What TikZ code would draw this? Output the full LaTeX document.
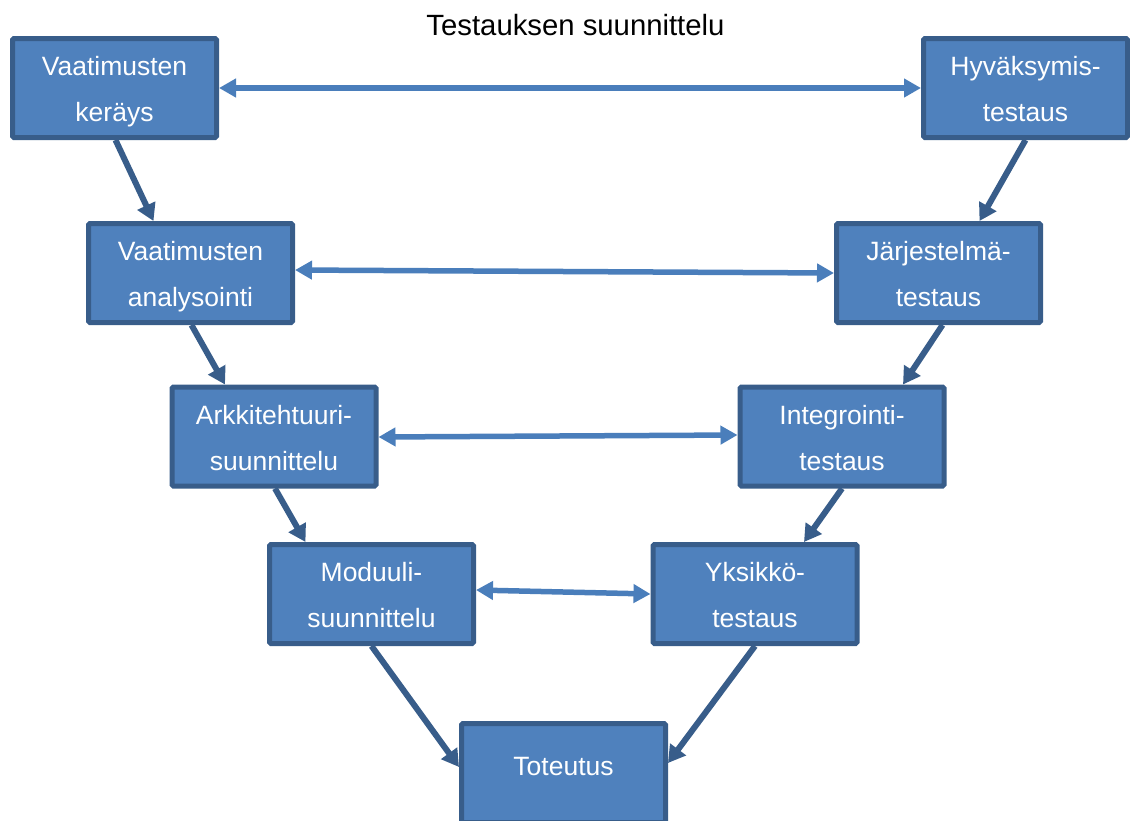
\documentclass[tikz,border=0pt]{standalone}
\usepackage{fontspec}
\setmainfont{Liberation Sans}
\usetikzlibrary{arrows.meta,calc}

\definecolor{boxfill}{HTML}{4F81BD}
\definecolor{boxedge}{HTML}{385D8A}
\definecolor{linkblue}{HTML}{4A7EBB}

\tikzset{
  phase/.style={draw=boxedge, fill=boxfill, line width=5pt, rounded corners=1.5pt,
    minimum width=204pt, minimum height=99pt, inner sep=0pt, text=white,
    align=center, font=\fontsize{26.5}{46}\selectfont},
  twoline/.style={phase, text height=73pt, text depth=6pt},
  flow/.style={draw=boxedge, line width=6pt, -{Triangle[length=17pt,width=19pt]}},
  pair/.style={draw=linkblue, line width=5.5pt,
    {Triangle[length=17pt,width=18pt]}-{Triangle[length=17pt,width=18pt]}},
}

\begin{document}
\begin{tikzpicture}[x=1pt, y=-1pt]
\useasboundingbox (0,0) rectangle (1130,820);
\clip (0,0) rectangle (1130,820);

\node[anchor=base, font=\fontsize{29.3}{34}\selectfont] (title) at (575.5,35) {Testauksen suunnittelu};

% left branch: specification and design
\node[twoline] (ker) at (114.5,88)  {Vaatimusten\\keräys};
\node[twoline] (ana) at (190.5,273) {Vaatimusten\\analysointi};
\node[twoline] (ark) at (274,436.5) {Arkkitehtuuri-\\suunnittelu};
\node[twoline] (mod) at (371.5,594) {Moduuli-\\suunnittelu};

% right branch: testing levels
\node[twoline] (hyv) at (1025.5,88)  {Hyväksymis-\\testaus};
\node[twoline] (jar) at (938.5,273)  {Järjestelmä-\\testaus};
\node[twoline] (int) at (842,436.5)  {Integrointi-\\testaus};
\node[twoline] (yks) at (755,594)    {Yksikkö-\\testaus};

% bottom of the V
\node[phase, text height=18pt, text depth=14pt] (tot) at (563.5,773) {Toteutus};

% downward flow
\draw[flow] ($(ker.south)+(1,0)$) -- ($(ana.north)+(-37,0)$);
\draw[flow] ($(ana.south)+(1,0)$) -- ($(ark.north)+(-49,0)$);
\draw[flow] ($(ark.south)+(1,0)$) -- ($(mod.north)+(-66,0)$);
\draw[flow] ($(mod.south)+(0,0)$) -- ($(tot.west)+(0,-6)$);

\draw[flow] ($(hyv.south)+(0,0)$) -- ($(jar.north)+(41,0)$);
\draw[flow] ($(jar.south)+(4,0)$) -- ($(int.north)+(61,0)$);
\draw[flow] ($(int.south)+(0,0)$) -- ($(yks.north)+(49,0)$);
\draw[flow] ($(yks.south)+(0,0)$) -- ($(tot.east)+(0,-10)$);

% design level <-> test level
\draw[pair] (ker.east) -- (hyv.west);
\draw[pair] ($(ana.east)+(0,-3)$) -- (jar.west);
\draw[pair] ($(ark.east)+(0,0.5)$) -- ($(int.west)+(0,-1.5)$);
\draw[pair] ($(mod.east)+(0,-4)$) -- (yks.west);
\end{tikzpicture}
\end{document}
